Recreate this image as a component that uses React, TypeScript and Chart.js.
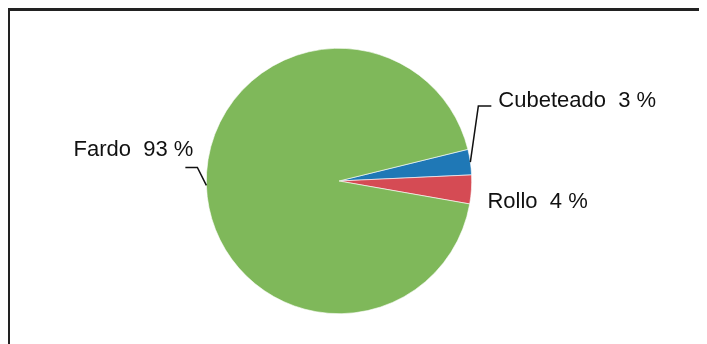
import React, { useEffect, useRef } from "react";
import { Chart, registerables } from "chart.js";

Chart.register(...registerables);

const categories = ["Cubeteado", "Rollo", "Fardo"];
const shares = [3.1, 3.5, 93.4];
const percentLabels = ["3 %", "4 %", "93 %"];
const colors = ["#1f78b6", "#d54b54", "#7fb85a"];

const FONT = '22px "Liberation Sans", Arial, sans-serif';

// leader line / label layout relative to slice mid-point on the rim
const labelLayout: Record<string, { pts: [number, number][]; tx: number; ty: number; align: CanvasTextAlign }> = {
  Cubeteado: { pts: [[8, -56], [21, -56]], tx: 28, ty: -55, align: "left" },
  Rollo: { pts: [], tx: 16, ty: 19, align: "left" },
  Fardo: { pts: [[-9, -18], [-21, -18]], tx: -13, ty: -29, align: "right" },
};

const labelPlugin = {
  id: "pieLabels",
  afterDraw(chart: any) {
    const ctx = chart.ctx as CanvasRenderingContext2D;
    const meta = chart.getDatasetMeta(0);
    ctx.save();
    ctx.font = FONT;
    ctx.fillStyle = "#111";
    ctx.strokeStyle = "#111";
    ctx.lineWidth = 1.5;
    meta.data.forEach((arc: any, i: number) => {
      const name = categories[i];
      const lay = labelLayout[name];
      const mid = (arc.startAngle + arc.endAngle) / 2;
      const ax = arc.x + Math.cos(mid) * arc.outerRadius;
      const ay = arc.y + Math.sin(mid) * arc.outerRadius;
      if (lay.pts.length) {
        ctx.beginPath();
        ctx.moveTo(ax, ay);
        lay.pts.forEach(([dx, dy]) => ctx.lineTo(ax + dx, ay + dy));
        ctx.stroke();
      }
      ctx.textAlign = lay.align;
      ctx.textBaseline = "alphabetic";
      ctx.fillText(`${name}  ${percentLabels[i]}`, ax + lay.tx, ay + lay.ty);
    });
    ctx.restore();
  },
};

export default function App() {
  const ref = useRef<HTMLCanvasElement>(null);
  useEffect(() => {
    if (!ref.current) return;
    const chart = new Chart(ref.current, {
      type: "pie",
      data: {
        labels: categories,
        datasets: [
          {
            data: shares,
            backgroundColor: colors,
            borderColor: "#ffffff",
            borderWidth: 0.6,
          },
        ],
      },
      options: {
        responsive: false,
        animation: false,
        rotation: 76.2,
        layout: { padding: { left: 198, right: 235, top: 40, bottom: 30 } },
        plugins: {
          legend: { display: false },
          tooltip: { enabled: false },
        },
      },
      plugins: [labelPlugin],
    });
    return () => chart.destroy();
  }, []);

  return (
    <div style={{ position: "relative", width: 699, height: 336, overflow: "hidden", background: "#fff" }}>
      <div
        style={{
          position: "absolute",
          left: -1,
          top: 0,
          width: 760,
          height: 400,
          borderTop: "3px solid #222",
          borderLeft: "3px solid #222",
          boxSizing: "border-box",
        }}
      />
      <canvas ref={ref} width={699} height={336} style={{ position: "absolute", left: 0, top: 0 }} />
    </div>
  );
}
